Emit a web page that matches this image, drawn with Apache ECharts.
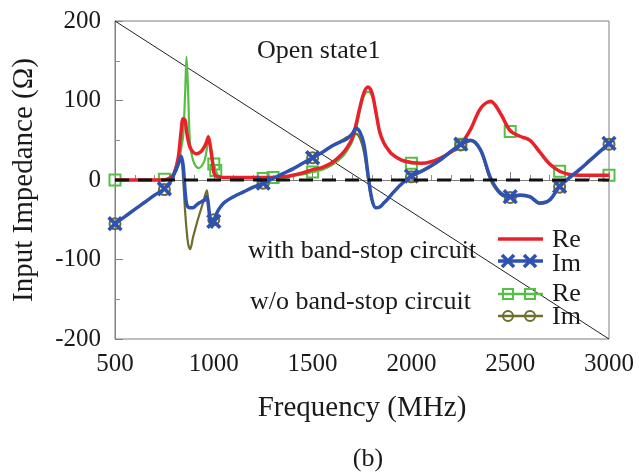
<!DOCTYPE html>
<html>
<head>
<meta charset="utf-8">
<script src="https://cdn.jsdelivr.net/npm/echarts@6/dist/echarts.min.js"></script>
<style>
  html, body { margin: 0; padding: 0; background: #ffffff; }
  #chart { width: 639px; height: 472px; }
</style>
</head>
<body>
<div id="chart"></div>
<script>
// Frequency grid (MHz), denser around the resonances
const freqs = [500, 550, 600, 650, 700, 750, 780, 800, 820, 835, 845, 855, 862, 870, 880, 895, 910, 925, 940, 955, 965, 972, 980, 990, 1000, 1010, 1025, 1050, 1100, 1150, 1200, 1250, 1300, 1350, 1400, 1450, 1500, 1550, 1600, 1650, 1675, 1700, 1720, 1740, 1760, 1780, 1800, 1820, 1840, 1860, 1880, 1900, 1950, 2000, 2050, 2100, 2150, 2200, 2250, 2300, 2350, 2400, 2450, 2500, 2550, 2600, 2650, 2700, 2750, 2800, 2850, 2900, 2950, 3000];

// Input impedance (Ohm) with band-stop circuit
const reWith = [0, 0, 0, 0, 0, 0, 3, 9, 28, 62, 77, 75, 62, 50, 41, 35, 33, 34, 37, 43, 49, 54, 46, 30, 10, 5, 4, 3, 3, 3, 3, 3, 3, 4, 6, 9, 13, 16, 22, 33, 41, 52, 70, 92, 110, 117, 110, 86, 60, 47, 39, 33, 25, 22, 21, 23, 28, 35, 45, 64, 90, 99, 84, 62, 55, 50, 35, 20, 11, 7, 6, 6, 6, 6];
const imWith = [-55, -46, -37, -28, -19, -11, -2, 8, 20, 30, 18, -15, -30, -34, -35, -35, -32, -29, -27, -25, -21, -30, -48, -59, -52, -45, -37, -29, -21, -15, -9, -4, 2, 8, 14, 21, 28, 35, 43, 49, 52, 58, 65, 60, 45, 8, -24, -35, -34, -29, -24, -18, -5, 5, 11, 18, 26, 36, 45, 50, 38, 3, -16, -21, -19, -21, -29, -25, -8, 3, 13, 24, 35, 46];

// Input impedance (Ohm) without band-stop circuit
const reWithout = [0, 0, 0, 0, 0, 1, 3, 7, 18, 40, 55, 110, 155, 110, 45, 25, 17, 15, 18, 26, 40, 56, 45, 25, 20, 12, 5, 3, 2, 2, 2, 2, 3, 3, 5, 7, 10, 13, 19, 29, 37, 48, 64, 88, 106, 111, 106, 85, 60, 47, 39, 33, 25, 21, 21, 23, 28, 35, 45, 64, 90, 98, 84, 61, 55, 49, 35, 20, 11, 7, 6, 6, 6, 6];
const imWithout = [-55, -46, -37, -28, -19, -12, -3, 7, 19, 24, 0, -40, -62, -80, -87, -72, -58, -45, -33, -20, -13, -28, -47, -58, -50, -44, -37, -29, -21, -15, -9, -4, 2, 8, 14, 21, 28, 35, 43, 50, 54, 55, 58, 52, 35, 2, -26, -35, -34, -29, -24, -18, -5, 4, 10, 17, 25, 35, 44, 49, 36, 0, -18, -22, -20, -22, -30, -26, -9, 2, 12, 23, 34, 45];

// Frequencies carrying a marker symbol
const markFreqRe = [500, 750, 1000, 1010, 1250, 1300, 1500, 1750, 2000, 2250, 2500, 2750, 3000];
const markFreqIm = [500, 750, 1000, 1250, 1500, 1750, 2000, 2250, 2500, 2750, 3000];

// Reference lines
const zeroLine = [[500, 0], [3000, 0]];
const diagLine = [[500, 200], [3000, -200]];

const C_RED = '#e8222a';
const C_BLUE = '#2f52b0';
const C_GREEN = '#55c043';
const C_OLIVE = '#6f6d2c';
const FONT = '"Liberation Serif", "DejaVu Serif", serif';
const TXT = '#1a1a1a';

const pairs = (vals) => freqs.map((f, i) => [f, vals[i]]);
const reSet = new Set(markFreqRe);
const imSet = new Set(markFreqIm);
const CROSS = 'path://M4,0H6V4H10V6H6V10H4V6H0V4H4Z';

function curve(name, vals, color, width, symbol, set, size, z, extra) {
  return Object.assign({
    name: name,
    type: 'line',
    data: pairs(vals),
    smooth: 0.35,
    showSymbol: true,
    showAllSymbol: true,
    symbol: (v) => (set.has(v[0]) ? symbol : 'none'),
    symbolSize: size,
    lineStyle: { color: color, width: width },
    itemStyle: { color: 'rgba(0,0,0,0)', borderColor: color, borderWidth: 2 },
    z: z,
    silent: true,
    animation: false
  }, extra || {});
}

const chart = echarts.init(document.getElementById('chart'), null, { renderer: 'canvas' });

const legendGraphics = [];
function addLine(y, color, w) {
  legendGraphics.push({ type: 'line', shape: { x1: 498, y1: y, x2: 543, y2: y }, style: { stroke: color, lineWidth: w }, z: 100 });
}
function addText(x, y, text, align) {
  legendGraphics.push({ type: 'text', x: x, y: y, style: { text: text, font: '26px ' + FONT, fill: TXT, textAlign: align || 'left', textVerticalAlign: 'middle' }, z: 100 });
}
addLine(239, C_RED, 3.5);
addLine(261, C_BLUE, 3.5);
[508, 530].forEach((x) => {
  legendGraphics.push({ type: 'line', shape: { x1: x - 6, y1: 255, x2: x + 6, y2: 267 }, style: { stroke: C_BLUE, lineWidth: 3.5 }, z: 100 });
  legendGraphics.push({ type: 'line', shape: { x1: x - 6, y1: 267, x2: x + 6, y2: 255 }, style: { stroke: C_BLUE, lineWidth: 3.5 }, z: 100 });
});
addLine(294, C_GREEN, 2.5);
[508, 530].forEach((x) => {
  legendGraphics.push({ type: 'rect', shape: { x: x - 5, y: 289, width: 10, height: 10 }, style: { stroke: C_GREEN, fill: 'none', lineWidth: 2 }, z: 100 });
});
addLine(316, C_OLIVE, 2.5);
[508, 530].forEach((x) => {
  legendGraphics.push({ type: 'circle', shape: { cx: x, cy: 316, r: 5 }, style: { stroke: C_OLIVE, fill: 'none', lineWidth: 2 }, z: 100 });
});
addText(552, 240, 'Re');
addText(552, 264, 'Im');
addText(552, 294, 'Re');
addText(552, 317, 'Im');
addText(248, 251, 'with band-stop circuit');
addText(250, 302, 'w/o band-stop circuit');
addText(257, 51, 'Open state1');
addText(368, 459, '(b)', 'center');

chart.setOption({
  animation: false,
  backgroundColor: '#ffffff',
  grid: { left: 115, right: 30, top: 21, bottom: 133, show: true, borderColor: '#808080', borderWidth: 1 },
  xAxis: {
    type: 'value',
    min: 500, max: 3000, interval: 500,
    name: 'Frequency (MHz)',
    nameLocation: 'middle',
    nameGap: 55,
    nameTextStyle: { fontFamily: FONT, fontSize: 29, color: TXT },
    axisLine: { show: true, lineStyle: { color: '#808080', width: 1 } },
    axisTick: { show: true, inside: true, length: 8, lineStyle: { color: '#808080' } },
    minorTick: { show: true, splitNumber: 5, length: 5, lineStyle: { color: '#909090' } },
    axisLabel: { fontFamily: FONT, fontSize: 25, color: TXT, margin: 13, formatter: (v) => String(v) },
    splitLine: { show: false }
  },
  yAxis: {
    type: 'value',
    min: -200, max: 200, interval: 100,
    name: 'Input Impedance (\u03A9)',
    nameLocation: 'middle',
    nameGap: 76,
    nameTextStyle: { fontFamily: FONT, fontSize: 29, color: TXT },
    axisLine: { show: true, lineStyle: { color: '#808080', width: 1 } },
    axisTick: { show: true, inside: true, length: 8, lineStyle: { color: '#808080' } },
    minorTick: { show: true, splitNumber: 2, length: 5, lineStyle: { color: '#909090' } },
    axisLabel: { fontFamily: FONT, fontSize: 25, color: TXT, margin: 14, formatter: (v) => String(v) },
    splitLine: { show: false }
  },
  graphic: legendGraphics,
  series: [
    {
      name: 'diagonal', type: 'line', data: diagLine, showSymbol: false, silent: true,
      lineStyle: { color: '#222222', width: 1 }, z: 1, animation: false
    },
    curve('Re w/o', reWithout, C_GREEN, 2.2, 'rect', reSet, 11, 2),
    curve('Im w/o', imWithout, C_OLIVE, 2.2, 'circle', imSet, 11, 3),
    curve('Re with', reWith, C_RED, 3.5, 'none', reSet, 1, 4),
    curve('Im with', imWith, C_BLUE, 3.5, CROSS, imSet, 18, 5, {
      symbolRotate: 45,
      itemStyle: { color: C_BLUE, borderWidth: 0 }
    }),
    {
      name: 'zero', type: 'line', data: zeroLine, showSymbol: false, silent: true,
      lineStyle: { color: '#111111', width: 3, type: [14, 9] }, z: 6, animation: false
    }
  ]
});
</script>
</body>
</html>
